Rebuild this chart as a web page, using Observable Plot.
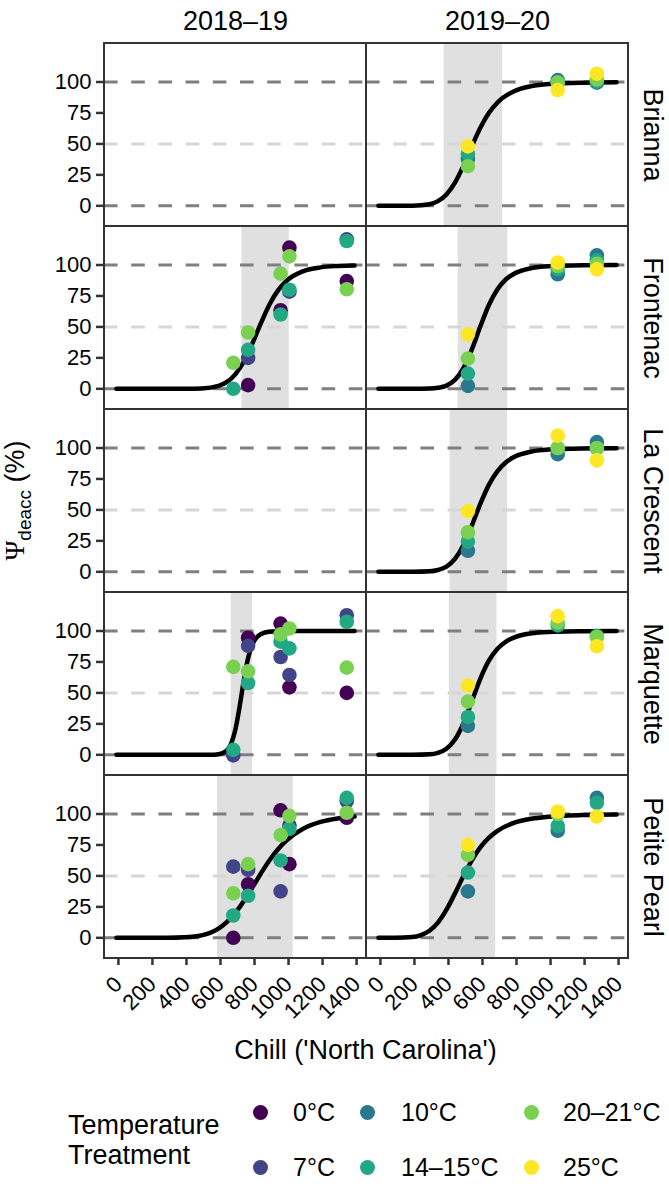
<!DOCTYPE html>
<html>
<head>
<meta charset="utf-8">
<script src="https://cdn.jsdelivr.net/npm/d3@7"></script>
<script src="https://cdn.jsdelivr.net/npm/@observablehq/plot@0.6"></script>
<style>
  body { margin: 0; background: #fff; font-family: "Liberation Sans", Arial, Helvetica, sans-serif; }
  #wrap { width: 669px; height: 1194px; position: relative; overflow: hidden; background: #fff; }
  #legend { position: relative; width: 669px; }
  .lg-title { position: absolute; left: 68px; font-size: 27px; line-height: 30px; color: #000; }
  .lg-dot { position: absolute; width: 15px; height: 15px; border-radius: 50%; }
  .lg-lab { position: absolute; font-size: 25px; line-height: 25px; color: #000; white-space: nowrap; }
</style>
</head>
<body>
<div id="wrap"></div>
<script>
// ---------------- data ----------------
const cultivars = ["Brianna", "Frontenac", "La Crescent", "Marquette", "Petite Pearl"];
const seasons = ["2018–19", "2019–20"];
const treatments = ["0°C", "7°C", "10°C", "14–15°C", "20–21°C", "25°C"];
const treatmentColors = ["#440154", "#414487", "#2A788E", "#22A884", "#7AD151", "#FDE725"];
const xTicks = [0, 200, 400, 600, 800, 1000, 1200, 1400];
const yTicks = [0, 25, 50, 75, 100];
const refLines = [0, 50, 100];

// shaded bands: cultivar, season, chill from, chill to
const bands = [
  ["Brianna", "2019–20", 386, 730],
  ["Frontenac", "2018–19", 738, 1016],
  ["Frontenac", "2019–20", 469, 761],
  ["La Crescent", "2019–20", 421, 759],
  ["Marquette", "2018–19", 675, 800],
  ["Marquette", "2019–20", 417, 697],
  ["Petite Pearl", "2018–19", 594, 1039],
  ["Petite Pearl", "2019–20", 300, 689]
];

// fitted curves: [chill, psi]
const crvBrianna1920 = [[0,0],[200,0.1],[300,1.3],[350,3.8],[400,9.2],[450,18.7],[500,32.5],[550,48.4],[600,63.3],[650,75.1],[700,83.5],[800,92.8],[900,96.7],[1000,98.4],[1200,99.5],[1400,99.8]];
const crvFrontenac1819 = [[0,0],[400,0],[500,0.3],[600,2.4],[650,5.6],[700,11.9],[750,22.3],[800,36.9],[850,53.2],[900,68.1],[950,79.5],[1000,87.2],[1100,95.1],[1200,98.1],[1300,99.2],[1400,99.6]];
const crvFrontenac1920 = [[0,0],[200,0],[300,0.2],[350,0.8],[400,2.6],[450,7.2],[500,16.7],[550,32.0],[600,50.7],[650,67.9],[700,80.5],[750,88.5],[800,93.2],[900,97.5],[1000,99.0],[1200,99.8],[1400,100]];
const crvLaCrescent1920 = [[0,0],[200,0],[300,0.4],[350,1.5],[400,4.2],[450,10.4],[500,21.6],[550,37.6],[600,55.2],[650,70.4],[700,81.3],[750,88.5],[800,92.9],[900,97.2],[1000,98.8],[1200,99.7],[1400,99.9]];
const crvMarquette1819 = [[0,0],[550,0.05],[600,0.5],[625,1.4],[650,3.7],[675,9.3],[700,20.8],[725,39.5],[750,61.1],[775,78.7],[800,89.4],[850,97.6],[900,99.4],[1000,100],[1400,100]];
const crvMarquette1920 = [[0,0],[200,0],[300,0.4],[350,1.6],[400,4.9],[450,12.3],[500,25.5],[550,43.6],[600,61.8],[650,76.2],[700,85.7],[750,91.5],[800,94.9],[900,98.1],[1000,99.2],[1200,99.8],[1400,100]];
const crvPetitePearl1819 = [[0,0],[300,0],[400,0.4],[500,2.0],[550,4.0],[600,7.4],[650,12.8],[700,20.3],[750,29.9],[800,40.9],[850,52.2],[900,62.7],[950,71.6],[1000,78.7],[1100,88.3],[1200,93.6],[1300,96.4],[1400,97.9]];
const crvPetitePearl1920 = [[0,0],[100,0],[200,0.6],[250,2.2],[300,5.7],[350,12.3],[400,22.7],[450,35.9],[500,50],[550,62.8],[600,73.2],[650,80.9],[700,86.4],[800,93.0],[900,96.2],[1000,97.8],[1200,99.2],[1400,99.7]];

// observations: [chill, treatment, psi]
const ptsBrianna1920 = [
  [526,"10°C",38],[526,"14–15°C",42],[526,"20–21°C",32],[526,"25°C",48],
  [1054,"10°C",101.5],[1054,"14–15°C",100],[1054,"20–21°C",99.5],[1054,"25°C",93.5],
  [1284,"10°C",99.5],[1284,"14–15°C",100.5],[1284,"20–21°C",102],[1284,"25°C",106.7]
];
const ptsFrontenac1819 = [
  [687,"14–15°C",0],[687,"20–21°C",21],
  [774,"0°C",3],[774,"7°C",25],[774,"14–15°C",31.5],[774,"20–21°C",45.5],
  [965,"0°C",63.5],[965,"14–15°C",60],[965,"20–21°C",93],
  [1017,"0°C",114],[1017,"7°C",78.5],[1017,"14–15°C",80],[1017,"20–21°C",107],
  [1354,"0°C",87],[1354,"7°C",120.7],[1354,"14–15°C",119.4],[1354,"20–21°C",80.4]
];
const ptsFrontenac1920 = [
  [526,"10°C",2.4],[526,"14–15°C",12.3],[526,"20–21°C",24.4],[526,"25°C",44],
  [1054,"10°C",92.5],[1054,"14–15°C",96.5],[1054,"20–21°C",99.2],[1054,"25°C",102],
  [1284,"10°C",107.8],[1284,"14–15°C",103.8],[1284,"20–21°C",101],[1284,"25°C",96.5]
];
const ptsLaCrescent1920 = [
  [526,"10°C",17],[526,"14–15°C",24.4],[526,"20–21°C",32],[526,"25°C",49],
  [1054,"10°C",95],[1054,"20–21°C",100],[1054,"14–15°C",99.8],[1054,"25°C",110],
  [1284,"10°C",104.8],[1284,"20–21°C",100],[1284,"14–15°C",99.8],[1284,"25°C",90]
];
const ptsMarquette1819 = [
  [687,"7°C",-0.5],[687,"14–15°C",4],[687,"20–21°C",71],
  [774,"0°C",94.6],[774,"7°C",88],[774,"14–15°C",58],[774,"20–21°C",67.5],
  [965,"0°C",106],[965,"7°C",79],[965,"14–15°C",91.4],[965,"20–21°C",97.3],
  [1017,"0°C",54.5],[1017,"7°C",64.5],[1017,"14–15°C",86],[1017,"20–21°C",102],
  [1354,"0°C",50],[1354,"7°C",112.7],[1354,"14–15°C",107.5],[1354,"20–21°C",70.4]
];
const ptsMarquette1920 = [
  [526,"10°C",23.4],[526,"14–15°C",30.6],[526,"20–21°C",43],[526,"25°C",56],
  [1054,"14–15°C",104.5],[1054,"20–21°C",106.7],[1054,"25°C",112],
  [1284,"14–15°C",96],[1284,"20–21°C",95.2],[1284,"25°C",87.7]
];
const ptsPetitePearl1819 = [
  [687,"0°C",0],[687,"7°C",57.5],[687,"14–15°C",18],[687,"20–21°C",36],
  [774,"0°C",43.3],[774,"7°C",55],[774,"14–15°C",34],[774,"20–21°C",59.5],
  [965,"0°C",103],[965,"7°C",37.5],[965,"14–15°C",62.5],[965,"20–21°C",83],
  [1017,"0°C",59.5],[1017,"7°C",91],[1017,"14–15°C",88],[1017,"20–21°C",98.5],
  [1354,"0°C",97],[1354,"7°C",110.5],[1354,"14–15°C",113],[1354,"20–21°C",101]
];
const ptsPetitePearl1920 = [
  [526,"10°C",37.5],[526,"14–15°C",52.7],[526,"20–21°C",67],[526,"25°C",75],
  [1054,"10°C",86.5],[1054,"14–15°C",90.3],[1054,"20–21°C",100],[1054,"25°C",102],
  [1284,"10°C",113],[1284,"14–15°C",109],[1284,"25°C",98]
];

const curvePanels = [
  ["Brianna","2019–20",crvBrianna1920],
  ["Frontenac","2018–19",crvFrontenac1819],
  ["Frontenac","2019–20",crvFrontenac1920],
  ["La Crescent","2019–20",crvLaCrescent1920],
  ["Marquette","2018–19",crvMarquette1819],
  ["Marquette","2019–20",crvMarquette1920],
  ["Petite Pearl","2018–19",crvPetitePearl1819],
  ["Petite Pearl","2019–20",crvPetitePearl1920]
];
const pointPanels = [
  ["Brianna","2019–20",ptsBrianna1920],
  ["Frontenac","2018–19",ptsFrontenac1819],
  ["Frontenac","2019–20",ptsFrontenac1920],
  ["La Crescent","2019–20",ptsLaCrescent1920],
  ["Marquette","2018–19",ptsMarquette1819],
  ["Marquette","2019–20",ptsMarquette1920],
  ["Petite Pearl","2018–19",ptsPetitePearl1819],
  ["Petite Pearl","2019–20",ptsPetitePearl1920]
];

// ---------------- tables built from the arrays ----------------
const panels = cultivars.flatMap(c => seasons.map(s => ({cultivar: c, season: s})));
const ruleRows = panels.flatMap(p => refLines.map(v => ({...p, psi: v})));
const bandRows = bands.map(([c, s, a, b]) => ({cultivar: c, season: s, x1: a, x2: b}));
const curveRows = curvePanels.flatMap(([c, s, arr]) => arr.map(([x, y]) => ({cultivar: c, season: s, key: c + s, chill: x, psi: y})));
const pointRows = pointPanels.flatMap(([c, s, arr]) => arr.map(([x, t, y]) => ({cultivar: c, season: s, chill: x, temp: t, psi: y})))
  .sort((a, b) => treatments.indexOf(a.temp) - treatments.indexOf(b.temp));

const FONT = '"Liberation Sans", Arial, Helvetica, sans-serif';
const W = 669, MT = 43, MB = 110, ML = 103, MR = 41, PANEL_H = 183;
const H = MT + MB + PANEL_H * cultivars.length;

const chart = Plot.plot({
  width: W,
  height: H,
  marginTop: MT,
  marginBottom: MB,
  marginLeft: ML,
  marginRight: MR,
  style: {fontFamily: FONT, background: "white", color: "black", overflow: "visible"},
  fx: {domain: seasons, padding: 0, label: null},
  fy: {domain: cultivars, padding: 0, label: null},
  x: {domain: [-70, 1470], label: null},
  y: {domain: [-16.7, 131.1], label: null},
  color: {domain: treatments, range: treatmentColors},
  marks: [
    Plot.rect(bandRows, {fx: "season", fy: "cultivar", x1: "x1", x2: "x2", fill: "#e0e0e0"}),
    Plot.ruleY(ruleRows, {fx: "season", fy: "cultivar", y: "psi",
      stroke: d => d.psi === 50 ? "#d6d6d6" : "#7f7f7f", strokeWidth: 3, strokeDasharray: "13.6,13.6"}),
    Plot.line(curveRows, {fx: "season", fy: "cultivar", x: "chill", y: "psi", z: "key",
      stroke: "black", strokeWidth: 4.5, curve: "monotone-x"}),
    Plot.dot(pointRows, {fx: "season", fy: "cultivar", x: "chill", y: "psi", fill: "temp", r: 7.3, stroke: "none"}),
    Plot.rect(panels, {fx: "season", fy: "cultivar", x1: () => -70, x2: () => 1470, y1: () => -16.7, y2: () => 131.1,
      fill: "none", stroke: "#333333", strokeWidth: 2}),
    Plot.axisY({anchor: "left", facetAnchor: "left", ticks: yTicks, tickSize: 8, tickPadding: 5,
      fontSize: 22, stroke: "#333333", strokeWidth: 2.5, fill: "black", label: null}),
    Plot.axisX({anchor: "bottom", facetAnchor: "bottom", ticks: xTicks, tickFormat: d => String(d),
      tickSize: 7, tickPadding: 15, dx: 2, tickRotate: -45, fontSize: 22,
      stroke: "#333333", strokeWidth: 2.5, fill: "black", label: null}),
    Plot.axisFx({anchor: "top", tickSize: 0, tickPadding: 14, fontSize: 27, label: null}),
    Plot.axisFy({anchor: "right", tickSize: 0, tickPadding: 35, tickRotate: 90, fontSize: 27, label: null})
  ]
});

const wrap = document.getElementById("wrap");
wrap.appendChild(chart);

// axis titles
const svg = d3.select(chart);
const yMid = MT + PANEL_H * cultivars.length / 2;
const yt = svg.append("text")
  .attr("transform", `translate(24,${yMid}) rotate(-90)`)
  .attr("text-anchor", "start")
  .attr("font-size", 27)
  .attr("fill", "black")
  .attr("font-family", FONT);
yt.append("tspan").attr("font-family", '"Liberation Serif", "DejaVu Serif", serif').text("Ψ");
yt.append("tspan").attr("font-size", 19).attr("dy", 7).text("deacc");
yt.append("tspan").attr("dy", -7).text(" (%)");
const ytLen = yt.node().getBBox().width;
yt.attr("x", -ytLen / 2);

svg.append("text")
  .attr("x", ML + (W - ML - MR) / 2)
  .attr("y", 1059)
  .attr("text-anchor", "middle")
  .attr("font-size", 27)
  .attr("fill", "black")
  .attr("font-family", FONT)
  .text("Chill ('North Carolina')");

// legend (below the svg)
const legend = document.createElement("div");
legend.id = "legend";
legend.style.height = (1194 - H) + "px";
const legTop = H;
const t1 = document.createElement("div");
t1.className = "lg-title"; t1.style.top = (1125 - 15 - legTop) + "px"; t1.textContent = "Temperature";
const t2 = document.createElement("div");
t2.className = "lg-title"; t2.style.top = (1155 - 15 - legTop) + "px"; t2.textContent = "Treatment";
legend.appendChild(t1); legend.appendChild(t2);
const colorScale = chart.scale("color");
const colX = [260, 367, 531];
const labX = [293, 401, 563];
const rowY = [1112, 1167];
treatments.forEach((t, i) => {
  const col = Math.floor(i / 2), row = i % 2;
  const dot = document.createElement("div");
  dot.className = "lg-dot";
  dot.style.left = (colX[col] - 7.5) + "px";
  dot.style.top = (rowY[row] - legTop - 7.5) + "px";
  dot.style.background = colorScale.apply(t);
  const lab = document.createElement("div");
  lab.className = "lg-lab";
  lab.style.left = labX[col] + "px";
  lab.style.top = (rowY[row] - legTop - 12.5) + "px";
  lab.textContent = t;
  legend.appendChild(dot); legend.appendChild(lab);
});
wrap.appendChild(legend);
</script>
</body>
</html>
